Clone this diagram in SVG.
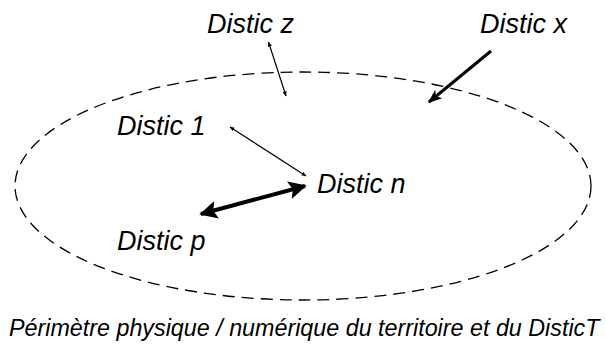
<svg xmlns="http://www.w3.org/2000/svg" width="606" height="350" viewBox="0 0 606 350">
<style>
text{font-family:"Liberation Sans",Arial,sans-serif;font-style:italic;fill:#000}
.lbl{font-size:27px}
.cap{font-size:23.3px}
.thin{stroke:#000;stroke-width:1.2;fill:none}
.mid{stroke:#000;stroke-width:3;fill:none}
.thick{stroke:#000;stroke-width:4;fill:none}
</style>
<defs>
<marker id="sm" viewBox="0 0 10 10" refX="9" refY="5" markerWidth="5" markerHeight="5" orient="auto-start-reverse" markerUnits="userSpaceOnUse"><path d="M0,1 L10,5 L0,9 z" fill="#000"/></marker>
<marker id="md" viewBox="0 0 10 10" refX="9" refY="5" markerWidth="14" markerHeight="14" orient="auto-start-reverse" markerUnits="userSpaceOnUse"><path d="M0,1 L10,5 L0,9 L2.5,5 z" fill="#000"/></marker>
<marker id="lg" viewBox="0 0 10 10" refX="9" refY="5" markerWidth="18" markerHeight="18" orient="auto-start-reverse" markerUnits="userSpaceOnUse"><path d="M0,0 L10,5 L0,10 L2,5 z" fill="#000"/></marker>
</defs>
<g id="perimeter"><ellipse cx="303" cy="186" rx="288" ry="114" fill="none" stroke="#000" stroke-width="1.3" stroke-dasharray="12,7"/></g>
<g id="connectors">
<line class="thin" x1="268.5" y1="42" x2="286" y2="96" marker-start="url(#sm)" marker-end="url(#sm)"/>
<line class="mid" x1="491" y1="51" x2="429" y2="102" marker-end="url(#md)"/>
<line class="thin" x1="230" y1="127" x2="306" y2="176" marker-start="url(#sm)" marker-end="url(#sm)"/>
<line class="thick" x1="201" y1="214" x2="305" y2="186" marker-start="url(#lg)" marker-end="url(#lg)"/>
</g>
<g id="distic-z"><text class="lbl" x="207" y="33">Distic z</text></g>
<g id="distic-x"><text class="lbl" x="480" y="33">Distic x</text></g>
<g id="distic-1"><text class="lbl" x="117" y="135">Distic 1</text></g>
<g id="distic-n"><text class="lbl" x="317" y="193">Distic n</text></g>
<g id="distic-p"><text class="lbl" x="117" y="250">Distic p</text></g>
<g id="caption"><text class="cap" x="9" y="336">Périmètre physique / numérique du territoire et du DisticT</text></g>
</svg>
